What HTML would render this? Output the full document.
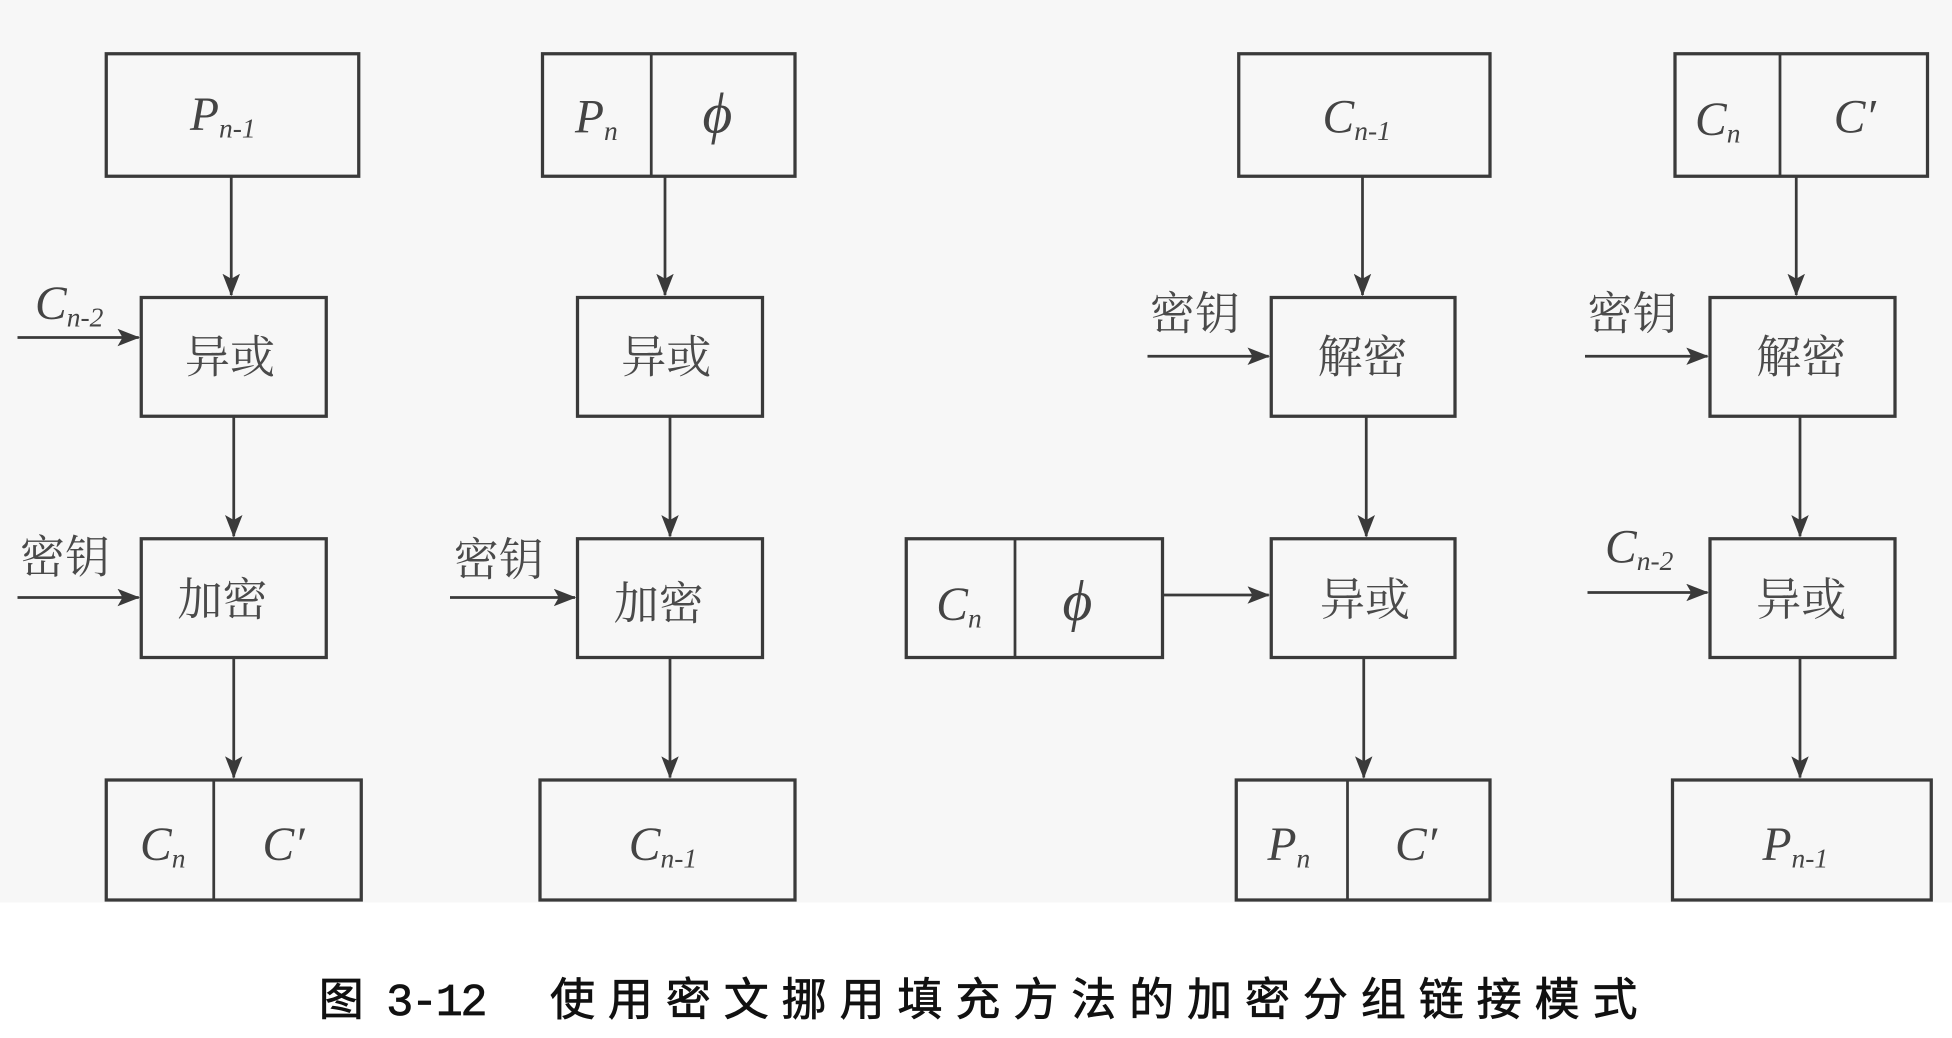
<!DOCTYPE html>
<html><head><meta charset="utf-8"><style>
html,body{margin:0;padding:0;background:#fff;}
svg{display:block}
.b{fill:none;stroke:#3a3a3a;stroke-width:2.6}
.l{stroke:#3a3a3a;stroke-width:2.2}
.v{font-family:"Liberation Serif",serif;font-style:italic;fill:#444;font-size:38px}
.s{font-size:22px}
.c{font-family:"Liberation Serif","Noto Serif CJK SC",serif;fill:#4a4a4a;font-size:36px}
.cap{font-family:"Liberation Mono","Noto Sans CJK SC",sans-serif;fill:#111;stroke:#111;stroke-width:0.6;font-size:36px}
</style></head><body>
<svg width="1952" height="1038" viewBox="0 0 1561.6 830.4" xmlns="http://www.w3.org/2000/svg">
<defs>
<marker id="ar" markerWidth="18" markerHeight="14" refX="17" refY="7" orient="auto" markerUnits="userSpaceOnUse" viewBox="0 0 18 14"><path d="M0,0 L18,7 L0,14 L4,7 Z" fill="#3a3a3a"/></marker></defs>
<rect x="0" y="0" width="1561.6" height="722" fill="#f7f7f7"/>
<!-- col1 -->
<rect class="b" x="85" y="43" width="202" height="98"/>
<text class="v" x="152" y="104">P<tspan class="s" dy="6">n-1</tspan></text>
<line class="l" x1="185" y1="141" x2="185" y2="236" marker-end="url(#ar)"/>
<rect class="b" x="113" y="238" width="148" height="95"/>
<text class="c" x="148" y="298">异或</text>
<text class="v" x="28" y="255">C<tspan class="s" dy="6">n-2</tspan></text>
<line class="l" x1="14" y1="270" x2="111" y2="270" marker-end="url(#ar)"/>
<line class="l" x1="187" y1="333" x2="187" y2="429" marker-end="url(#ar)"/>
<rect class="b" x="113" y="431" width="148" height="95"/>
<text class="c" x="142" y="492">加密</text>
<text class="c" x="16" y="458">密钥</text>
<line class="l" x1="14" y1="478" x2="111" y2="478" marker-end="url(#ar)"/>
<line class="l" x1="187" y1="526" x2="187" y2="622" marker-end="url(#ar)"/>
<rect class="b" x="85" y="624" width="204" height="96"/>
<line class="l" x1="171" y1="624" x2="171" y2="720"/>
<text class="v" x="112" y="688">C<tspan class="s" dy="6">n</tspan></text>
<text class="v" x="210" y="688">C′</text>
<!-- col2 -->
<rect class="b" x="434" y="43" width="202" height="98"/>
<line class="l" x1="521" y1="43" x2="521" y2="141"/>
<text class="v" x="460" y="106">P<tspan class="s" dy="6">n</tspan></text>
<text class="v" x="562" y="106" style="font-size:46px">ϕ</text>
<line class="l" x1="532" y1="141" x2="532" y2="236" marker-end="url(#ar)"/>
<rect class="b" x="462" y="238" width="148" height="95"/>
<text class="c" x="497" y="298">异或</text>
<line class="l" x1="536" y1="333" x2="536" y2="429" marker-end="url(#ar)"/>
<rect class="b" x="462" y="431" width="148" height="95"/>
<text class="c" x="491" y="495">加密</text>
<text class="c" x="363" y="460">密钥</text>
<line class="l" x1="360" y1="478" x2="460" y2="478" marker-end="url(#ar)"/>
<line class="l" x1="536" y1="526" x2="536" y2="622" marker-end="url(#ar)"/>
<rect class="b" x="432" y="624" width="204" height="96"/>
<text class="v" x="503" y="688">C<tspan class="s" dy="6">n-1</tspan></text>
<!-- col3 -->
<rect class="b" x="991" y="43" width="201" height="98"/>
<text class="v" x="1058" y="106">C<tspan class="s" dy="6">n-1</tspan></text>
<line class="l" x1="1090" y1="141" x2="1090" y2="236" marker-end="url(#ar)"/>
<rect class="b" x="1017" y="238" width="147" height="95"/>
<text class="c" x="1054" y="298">解密</text>
<text class="c" x="920" y="263">密钥</text>
<line class="l" x1="918" y1="285" x2="1015" y2="285" marker-end="url(#ar)"/>
<line class="l" x1="1093" y1="333" x2="1093" y2="429" marker-end="url(#ar)"/>
<rect class="b" x="1017" y="431" width="147" height="95"/>
<text class="c" x="1056" y="492">异或</text>
<rect class="b" x="725" y="431" width="205" height="95"/>
<line class="l" x1="812" y1="431" x2="812" y2="526"/>
<text class="v" x="749" y="496">C<tspan class="s" dy="6">n</tspan></text>
<text class="v" x="850" y="496" style="font-size:46px">ϕ</text>
<line class="l" x1="930" y1="476" x2="1015" y2="476" marker-end="url(#ar)"/>
<line class="l" x1="1091" y1="526" x2="1091" y2="622" marker-end="url(#ar)"/>
<rect class="b" x="989" y="624" width="203" height="96"/>
<line class="l" x1="1078" y1="624" x2="1078" y2="720"/>
<text class="v" x="1014" y="688">P<tspan class="s" dy="6">n</tspan></text>
<text class="v" x="1116" y="688">C′</text>
<!-- col4 -->
<rect class="b" x="1340" y="43" width="202" height="98"/>
<line class="l" x1="1424" y1="43" x2="1424" y2="141"/>
<text class="v" x="1356" y="108">C<tspan class="s" dy="6">n</tspan></text>
<text class="v" x="1467" y="106">C′</text>
<line class="l" x1="1437" y1="141" x2="1437" y2="236" marker-end="url(#ar)"/>
<rect class="b" x="1368" y="238" width="148" height="95"/>
<text class="c" x="1405" y="298">解密</text>
<text class="c" x="1270" y="263">密钥</text>
<line class="l" x1="1268" y1="285" x2="1366" y2="285" marker-end="url(#ar)"/>
<line class="l" x1="1440" y1="333" x2="1440" y2="429" marker-end="url(#ar)"/>
<rect class="b" x="1368" y="431" width="148" height="95"/>
<text class="c" x="1405" y="492">异或</text>
<text class="v" x="1284" y="450">C<tspan class="s" dy="6">n-2</tspan></text>
<line class="l" x1="1270" y1="474" x2="1366" y2="474" marker-end="url(#ar)"/>
<line class="l" x1="1440" y1="526" x2="1440" y2="622" marker-end="url(#ar)"/>
<rect class="b" x="1338" y="624" width="207" height="96"/>
<text class="v" x="1410" y="688">P<tspan class="s" dy="6">n-1</tspan></text>
<!-- caption -->
<text class="cap" x="255" y="812" textLength="135" lengthAdjust="spacing">图 3-12</text>
<text class="cap" x="440" y="812" textLength="870" lengthAdjust="spacing">使用密文挪用填充方法的加密分组链接模式</text>
</svg>
</body></html>
